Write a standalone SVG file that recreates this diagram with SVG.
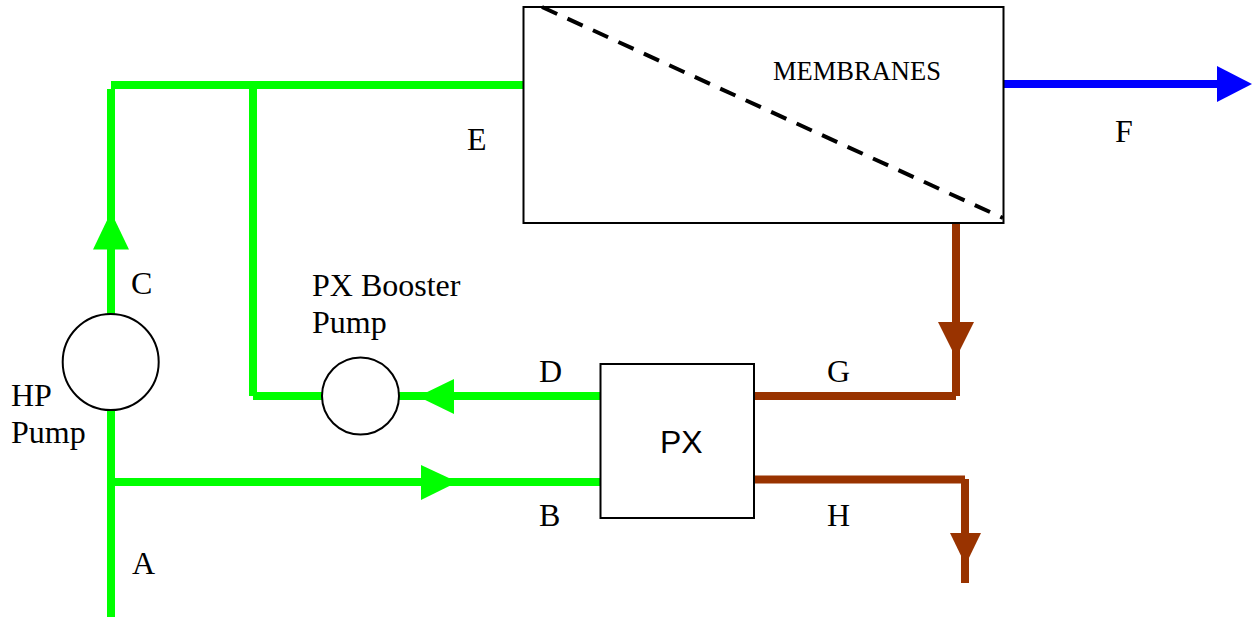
<svg xmlns="http://www.w3.org/2000/svg" width="1252" height="617" viewBox="0 0 1252 617">
<style>
.pipe{fill:none;stroke-width:8;stroke-linecap:butt;stroke-linejoin:miter}
.g{stroke:#00ff00}.b{stroke:#993300}.u{stroke:#0000ff}
.gh{fill:#00ff00}.bh{fill:#993300}.uh{fill:#0000ff}
.box{fill:#fff;stroke:#000;stroke-width:2}
.pump{fill:#fff;stroke:#000;stroke-width:2}
text{font-family:"Liberation Serif","Times New Roman",serif;font-size:32px;fill:#000}
.sans{font-family:"Liberation Sans",Arial,sans-serif}
</style>
<rect width="1252" height="617" fill="#fff"/>
<g id="connectors">
<path class="pipe g" d="M111 617V89"/>
<path class="pipe g" d="M111 85H523"/>
<path class="pipe g" d="M253 85V396"/>
<path class="pipe g" d="M253 396H600"/>
<path class="pipe g" d="M111 482H600"/>
<path class="pipe u" d="M1004 84H1220"/>
<path class="pipe b" d="M956 223V396"/>
<path class="pipe b" d="M754 396H956"/>
<path class="pipe b" d="M754 479.500H965"/>
<path class="pipe b" d="M965 479V583"/>
<polygon class="gh" points="111,212 129,249.500 93,249.500"/>
<polygon class="gh" points="418,396.500 454,379 454,414"/>
<polygon class="gh" points="457.500,482 421,465 421,500"/>
<polygon class="uh" points="1252,84 1217,66 1217,102"/>
<polygon class="bh" points="956,358 938,322 974,322"/>
<polygon class="bh" points="965.500,565 950,533 981,533"/>
</g>
<g id="membranes">
<rect class="box" x="523.500" y="7" width="480" height="216"/>
<path d="M542 7L1003 218" fill="none" stroke="#000" stroke-width="4" stroke-dasharray="16.700 11.300"/>
<text x="773" y="80" style="font-size:26.500px">MEMBRANES</text>
</g>
<g id="px">
<rect class="box" x="600.500" y="364" width="153.500" height="154"/>
<text class="sans" x="660" y="453">PX</text>
</g>
<g id="hp-pump">
<circle class="pump" cx="110.700" cy="362" r="48"/>
<text x="11" y="406">HP</text>
<text x="11" y="443">Pump</text>
</g>
<g id="px-booster-pump">
<circle class="pump" cx="360.500" cy="396" r="38.500"/>
<text x="312" y="296">PX Booster</text>
<text x="312" y="333">Pump</text>
</g>
<g id="labels">
<text x="132" y="574">A</text>
<text x="539" y="526">B</text>
<text x="131" y="294">C</text>
<text x="539" y="382">D</text>
<text x="467" y="150">E</text>
<text x="1115" y="142">F</text>
<text x="827" y="382">G</text>
<text x="827" y="526">H</text>
</g>
</svg>
